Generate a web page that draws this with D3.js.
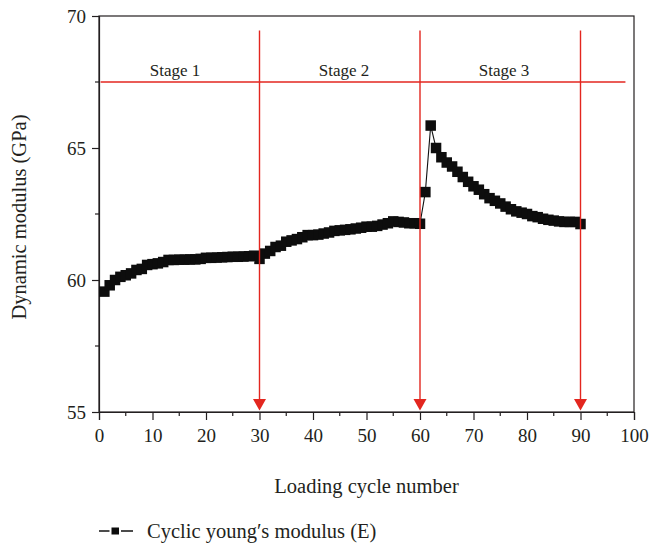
<!DOCTYPE html>
<html>
<head>
<meta charset="utf-8">
<script src="https://cdn.jsdelivr.net/npm/d3@7/dist/d3.min.js"></script>
<style>
  html, body { margin: 0; padding: 0; background: #fff; }
  svg { display: block; }
  text { font-family: "Liberation Serif", "DejaVu Serif", serif; fill: #231f20; }
</style>
</head>
<body>
<svg id="chart" width="649" height="547"></svg>
<script>
// Loading cycle numbers and the measured dynamic modulus (GPa) at each cycle
const cycles = [
  1, 2, 3, 4, 5, 6, 7, 8, 9, 10, 11, 12, 13, 14, 15, 16, 17, 18, 19, 20,
  21, 22, 23, 24, 25, 26, 27, 28, 29, 30, 31, 32, 33, 34, 35, 36, 37, 38, 39, 40,
  41, 42, 43, 44, 45, 46, 47, 48, 49, 50, 51, 52, 53, 54, 55, 56, 57, 58, 59, 60,
  61, 62, 63, 64, 65, 66, 67, 68, 69, 70, 71, 72, 73, 74, 75, 76, 77, 78, 79, 80,
  81, 82, 83, 84, 85, 86, 87, 88, 89, 90
];
const modulus = [
  // stage 1
  59.56, 59.80, 60.00, 60.12, 60.18, 60.25, 60.38, 60.42, 60.57, 60.60,
  60.63, 60.68, 60.76, 60.76, 60.77, 60.77, 60.78, 60.78, 60.80, 60.84,
  60.84, 60.85, 60.86, 60.87, 60.88, 60.88, 60.89, 60.90, 60.92, 60.80,
  // stage 2
  61.00, 61.10, 61.25, 61.30, 61.45, 61.50, 61.55, 61.62, 61.70, 61.70,
  61.72, 61.76, 61.80, 61.86, 61.88, 61.90, 61.92, 61.95, 61.98, 62.02,
  62.02, 62.05, 62.10, 62.15, 62.22, 62.20, 62.18, 62.15, 62.15, 62.13,
  // stage 3
  63.33, 65.85, 65.00, 64.65, 64.45, 64.30, 64.10, 63.90, 63.72, 63.55,
  63.42, 63.25, 63.10, 63.00, 62.90, 62.78, 62.68, 62.60, 62.55, 62.50,
  62.42, 62.38, 62.32, 62.28, 62.25, 62.22, 62.20, 62.20, 62.20, 62.12
];

// Stage division
const stageEnds = [30, 60, 90];
const stageLabels = ["Stage 1", "Stage 2", "Stage 3"];
const stageLabelCenters = [14.2, 45.8, 75.7];
const stageLineLevel = 67.5;      // horizontal divider (GPa)
const stageMarkerTop = 69.45;     // top of the vertical dividers (GPa)
const stageLineStart = 0.3;
const stageLineEnd = 98.4;

// Axes
const xTicks = [0, 10, 20, 30, 40, 50, 60, 70, 80, 90, 100];
const xMinorTicks = [5, 15, 25, 35, 45, 55, 65, 75, 85, 95];
const yTicks = [55, 60, 65, 70];
const yMinorTicks = [57.5, 62.5, 67.5];
const xTitle = "Loading cycle number";
const yTitle = "Dynamic modulus (GPa)";
const legendLabel = "Cyclic young\u2032s modulus (E)";

const svg = d3.select("#chart");
const W = 649, H = 547;
const margin = { left: 99, right: 15, top: 16, bottom: 135 };
const x0 = margin.left, x1 = W - margin.right;
const y0 = H - margin.bottom, y1 = margin.top;

const x = d3.scaleLinear().domain([0, 100]).range([x0, x1]);
const y = d3.scaleLinear().domain([55, 70]).range([y0, y1]);

const axisColor = "#231f20";
const red = "#e3261f";

// Frame
svg.append("rect")
  .attr("x", x0).attr("y", y1)
  .attr("width", x1 - x0).attr("height", y0 - y1)
  .attr("fill", "none").attr("stroke", axisColor).attr("stroke-width", 1.2);

// X axis
const xAxis = svg.append("g").attr("transform", `translate(0,${y0})`)
  .call(d3.axisBottom(x).tickValues(xTicks).tickSize(8).tickPadding(9).tickFormat(d3.format("d")));
xAxis.append("g").selectAll("line").data(xMinorTicks).join("line")
  .attr("x1", d => x(d)).attr("x2", d => x(d)).attr("y1", 0).attr("y2", 4);

// Y axis
const yAxis = svg.append("g").attr("transform", `translate(${x0},0)`)
  .call(d3.axisLeft(y).tickValues(yTicks).tickSize(7).tickPadding(6).tickFormat(d3.format("d")));
yAxis.append("g").selectAll("line").data(yMinorTicks).join("line")
  .attr("x1", 0).attr("x2", -4).attr("y1", d => y(d)).attr("y2", d => y(d));

[xAxis, yAxis].forEach(g => {
  g.select(".domain").attr("stroke", axisColor).attr("stroke-width", 1.2);
  g.selectAll("line").attr("stroke", axisColor).attr("stroke-width", 1.2);
  g.selectAll("text")
    .attr("font-family", "Liberation Serif, DejaVu Serif, serif")
    .attr("font-size", 19).attr("fill", "#231f20");
});

// Axis titles
svg.append("text")
  .attr("x", (x0 + x1) / 2).attr("y", 493)
  .attr("text-anchor", "middle").attr("font-size", 20.5)
  .text(xTitle);
svg.append("text")
  .attr("transform", `translate(26,${(y0 + y1) / 2 + 3}) rotate(-90)`)
  .attr("text-anchor", "middle").attr("font-size", 20.5)
  .text(yTitle);

// Series: connecting line and square markers
const points = cycles.map((c, i) => ({ c, v: modulus[i] }));
const line = d3.line().x(d => x(d.c)).y(d => y(d.v));
svg.append("path").datum(points)
  .attr("d", line).attr("fill", "none")
  .attr("stroke", "#111").attr("stroke-width", 1.1);
const ms = 10.5;
svg.append("g").selectAll("rect").data(points).join("rect")
  .attr("x", d => x(d.c) - ms / 2).attr("y", d => y(d.v) - ms / 2)
  .attr("width", ms).attr("height", ms)
  .attr("fill", "#0d0d0d");

// Stage dividers (drawn over the series)
const stageG = svg.append("g");
stageG.append("line")
  .attr("x1", x(stageLineStart)).attr("x2", x(stageLineEnd))
  .attr("y1", y(stageLineLevel)).attr("y2", y(stageLineLevel))
  .attr("stroke", red).attr("stroke-width", 1.4);
stageG.selectAll("line.v").data(stageEnds).join("line")
  .attr("class", "v")
  .attr("x1", d => x(d)).attr("x2", d => x(d))
  .attr("y1", y(stageMarkerTop)).attr("y2", y0 - 8)
  .attr("stroke", red).attr("stroke-width", 1.4);
stageG.selectAll("path.arrow").data(stageEnds).join("path")
  .attr("class", "arrow")
  .attr("d", d => `M${x(d) - 6.5},${y0 - 13} L${x(d) + 6.5},${y0 - 13} L${x(d)},${y0 - 1.5} Z`)
  .attr("fill", red);
stageG.selectAll("text").data(stageLabels).join("text")
  .attr("x", (d, i) => x(stageLabelCenters[i]))
  .attr("y", y(stageLineLevel) - 6)
  .attr("text-anchor", "middle").attr("font-size", 17)
  .text(d => d);

// Legend
const lg = svg.append("g").attr("transform", "translate(0,531)");
lg.append("line").attr("x1", 99).attr("x2", 133).attr("y1", 0).attr("y2", 0)
  .attr("stroke", "#111").attr("stroke-width", 1.4);
lg.append("rect").attr("x", 110.5).attr("y", -4.5).attr("width", 9.5).attr("height", 9)
  .attr("fill", "#0d0d0d").attr("stroke", "#fff").attr("stroke-width", 2);
lg.append("text").attr("x", 147).attr("y", 6.5)
  .attr("font-size", 20.5).text(legendLabel);
</script>
</body>
</html>
